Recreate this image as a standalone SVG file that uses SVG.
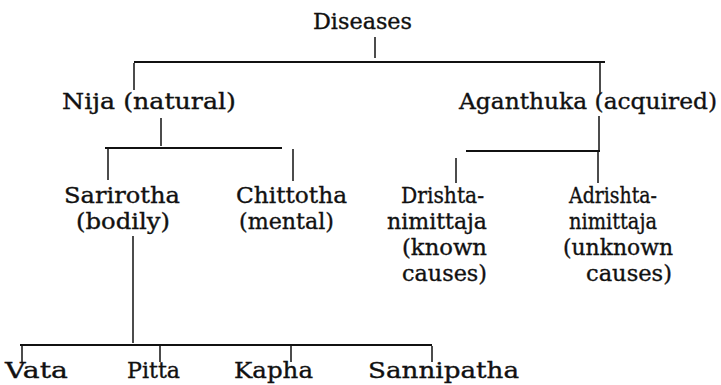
<svg xmlns="http://www.w3.org/2000/svg" width="721" height="385" viewBox="0 0 721 385">
<style>
text{font-family:"DejaVu Serif","Liberation Serif",serif;font-size:22px;fill:#111;stroke:#111;stroke-width:0.35}
.c line{stroke:#111;stroke-width:1.5}
.c .h{stroke-width:2}
</style>
<rect width="721" height="385" fill="#fff"/>
<g class="c" id="connectors">
<line x1="375" y1="37" x2="375" y2="58"/>
<line class="h" x1="134" y1="62" x2="605" y2="62"/>
<line x1="134" y1="63" x2="134" y2="90"/>
<line x1="600" y1="63" x2="600" y2="94"/>
<line x1="161" y1="118" x2="161" y2="146"/>
<line class="h" x1="105" y1="148" x2="282" y2="148"/>
<line x1="108" y1="149" x2="108" y2="180"/>
<line x1="293" y1="149" x2="293" y2="181"/>
<line x1="599" y1="116" x2="599" y2="150"/>
<line class="h" x1="466" y1="151" x2="600" y2="151"/>
<line x1="456" y1="158" x2="456" y2="183"/>
<line x1="598" y1="152" x2="598" y2="183"/>
<line x1="133" y1="236" x2="133" y2="343"/>
<line class="h" x1="20" y1="345" x2="432" y2="345"/>
<line x1="22" y1="346" x2="22" y2="362"/>
<line x1="160" y1="346" x2="160" y2="362"/>
<line x1="291" y1="346" x2="291" y2="362"/>
<line x1="432" y1="346" x2="432" y2="362"/>
</g>
<g id="diseases"><text x="313" y="29" textLength="99" lengthAdjust="spacingAndGlyphs">Diseases</text></g>
<g id="nija"><text x="62" y="109" textLength="174" lengthAdjust="spacingAndGlyphs">Nija (natural)</text></g>
<g id="aganthuka"><text x="459" y="109" textLength="258" lengthAdjust="spacingAndGlyphs">Aganthuka (acquired)</text></g>
<g id="sarirotha"><text x="64" y="203" textLength="116" lengthAdjust="spacingAndGlyphs">Sarirotha</text><text x="76" y="229" textLength="94" lengthAdjust="spacingAndGlyphs">(bodily)</text></g>
<g id="chittotha"><text x="236" y="203" textLength="111" lengthAdjust="spacingAndGlyphs">Chittotha</text><text x="239" y="229" textLength="95" lengthAdjust="spacingAndGlyphs">(mental)</text></g>
<g id="drishta"><text x="401" y="203" textLength="83" lengthAdjust="spacingAndGlyphs">Drishta-</text><text x="387" y="229" textLength="100" lengthAdjust="spacingAndGlyphs">nimittaja</text><text x="402" y="255" textLength="85" lengthAdjust="spacingAndGlyphs">(known</text><text x="402" y="281" textLength="85" lengthAdjust="spacingAndGlyphs">causes)</text></g>
<g id="adrishta"><text x="569" y="203" textLength="88" lengthAdjust="spacingAndGlyphs">Adrishta-</text><text x="569" y="229" textLength="88" lengthAdjust="spacingAndGlyphs">nimittaja</text><text x="563" y="255" textLength="110" lengthAdjust="spacingAndGlyphs">(unknown</text><text x="586" y="281" textLength="86" lengthAdjust="spacingAndGlyphs">causes)</text></g>
<g id="vata"><text x="5" y="378" textLength="63" lengthAdjust="spacingAndGlyphs">Vata</text></g>
<g id="pitta"><text x="127" y="378" textLength="53" lengthAdjust="spacingAndGlyphs">Pitta</text></g>
<g id="kapha"><text x="234" y="378" textLength="79" lengthAdjust="spacingAndGlyphs">Kapha</text></g>
<g id="sannipatha"><text x="368" y="378" textLength="151" lengthAdjust="spacingAndGlyphs">Sannipatha</text></g>
</svg>
